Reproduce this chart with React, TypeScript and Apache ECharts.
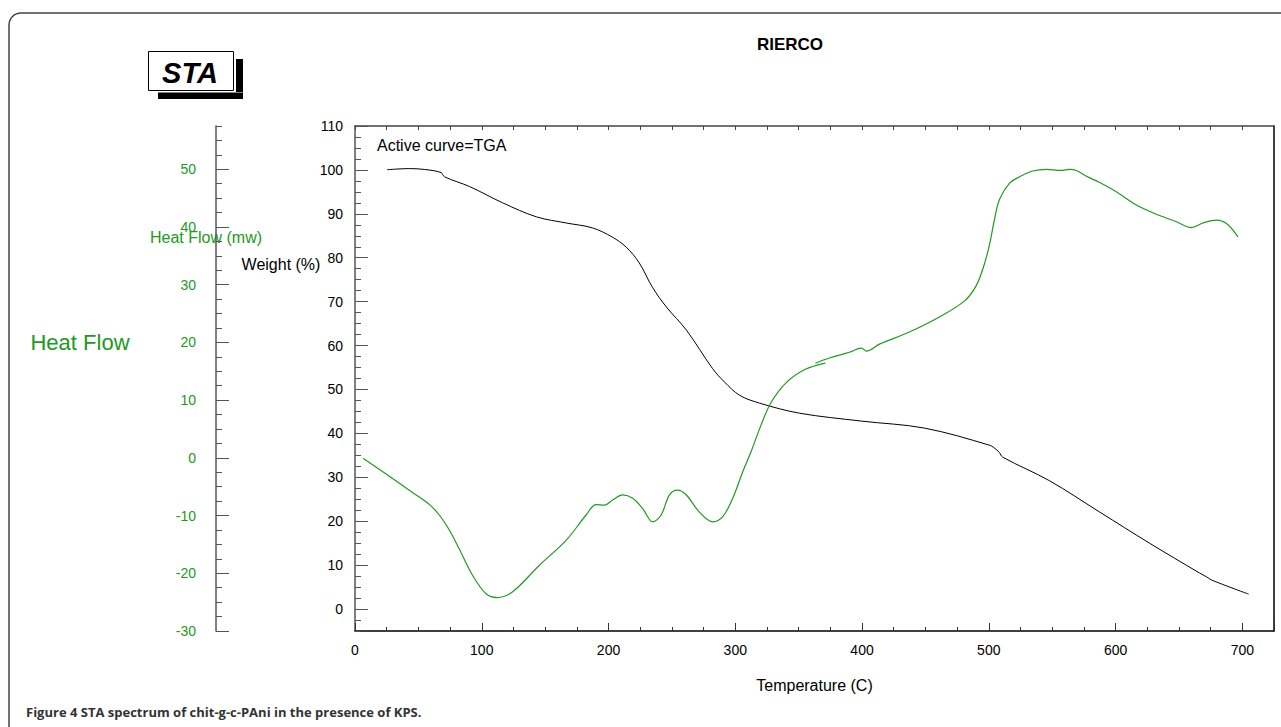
import React, { useEffect, useRef } from "react";
import * as echarts from "echarts";

// ---- data ----
const tgaTemp = [25.5, 42.9, 55, 67.9, 70.5, 90.5, 116.5, 143.3, 167, 187.3, 203, 214, 224.3, 234.6, 245.6, 261.5, 282, 291.5, 303.3, 319.1, 350.7, 399.6, 449.3, 500.6, 506, 508.5, 510.9, 548, 587.4, 626.8, 666.3, 672, 675.8, 705];
const tgaWeight = [100.05, 100.3, 100.1, 99.4, 98.45, 96.2, 92.5, 89.3, 87.9, 86.8, 84.7, 82.4, 78.8, 73.3, 68.8, 63.5, 54.8, 51.7, 48.7, 46.9, 44.6, 42.8, 41.2, 37.3, 36.3, 35.6, 34.6, 29.2, 22.1, 15.0, 8.2, 7.3, 6.6, 3.4];

const hf1Temp = [6.6, 27.1, 46.8, 58.8, 66.5, 74.4, 82.3, 92.6, 103.6, 112.3, 124.4, 145.5, 166.5, 182.3, 190.2, 196.8, 203.3, 211.2, 219.1, 227, 234.9, 241.5, 248.1, 254.6, 261.2, 271.7, 282.2, 290.1, 298, 305.9, 312.5, 320, 328, 340, 355, 371];
const hf1Value = [-0.1, -3.2, -6.2, -8.1, -9.9, -12.5, -15.8, -20.3, -23.6, -24.2, -23.2, -18.6, -14.3, -9.9, -8.1, -8.2, -7.3, -6.4, -7.0, -8.8, -11.1, -9.9, -6.4, -5.6, -6.4, -9.4, -11.1, -10.2, -7.0, -2.4, 1.1, 5.5, 9.5, 13.0, 15.3, 16.4];

const hf2Temp = [363.2, 374.3, 390, 399.5, 403.4, 413.7, 437.4, 461, 480.9, 490, 496, 500.6, 504.5, 508.5, 516.4, 524.3, 534.7, 545.4, 557.2, 563.8, 569.1, 577, 587.5, 600.6, 616.4, 632.2, 648, 659.8, 669, 679.6, 687.5, 696.6];
const hf2Value = [16.4, 17.3, 18.3, 19.0, 18.5, 19.7, 21.8, 24.4, 27.2, 29.8, 33.2, 37.0, 41.3, 44.8, 47.6, 48.7, 49.7, 50.0, 49.8, 50.0, 49.8, 48.8, 47.7, 46.1, 43.8, 42.2, 40.9, 39.9, 40.7, 41.2, 40.6, 38.3];

const weightTicks = [0, 10, 20, 30, 40, 50, 60, 70, 80, 90, 100, 110];
const heatTicks = [-30, -20, -10, 0, 10, 20, 30, 40, 50];

const GREEN = "#229922";
const FONT = "Liberation Sans, Arial, sans-serif";

const zip = (a: number[], b: number[]) => a.map((v, i) => [v, b[i]]);

export default function App() {
  const ref = useRef<HTMLDivElement>(null);
  useEffect(() => {
    if (!ref.current) return;
    const chart = echarts.init(ref.current, undefined, { renderer: "svg" });
    const minorAxis = (min: number, max: number, offset: number) => ({
      type: "value",
      position: "left",
      offset,
      min,
      max,
      interval: 2.5,
      axisLine: { show: true, onZero: false, lineStyle: { color: "#555", width: 1.5 } },
      axisTick: { show: true, inside: true, length: 6, lineStyle: { color: "#555" } },
      axisLabel: { show: false },
      splitLine: { show: false },
    });
    const majorAxis = (min: number, max: number, offset: number, ticks: number[], color: string, margin: number) => ({
      type: "value",
      position: "left",
      offset,
      min,
      max,
      interval: 5,
      axisLine: { show: false, onZero: false },
      axisTick: { show: true, inside: true, length: 13, customValues: ticks, lineStyle: { color: "#555" } },
      axisLabel: { show: true, customValues: ticks, color, fontSize: 14, fontFamily: FONT, margin },
      splitLine: { show: false },
    });
    const lineSeries = (xs: number[], ys: number[], yAxisIndex: number, color: string, width: number) => ({
      type: "line",
      xAxisIndex: 0,
      yAxisIndex,
      data: zip(xs, ys),
      symbol: "none",
      smooth: 0.35,
      lineStyle: { color, width },
    });
    chart.setOption({
      animation: false,
      textStyle: { fontFamily: FONT },
      grid: { left: 355, right: 7, top: 126, bottom: 96, containLabel: false },
      xAxis: [
        {
          type: "value",
          position: "bottom",
          min: 0,
          max: 725,
          interval: 100,
          axisLine: { show: true, onZero: false, lineStyle: { color: "#000", width: 1.5 } },
          axisTick: { show: true, inside: true, length: 8, lineStyle: { color: "#333" } },
          minorTick: { show: true, splitNumber: 4, length: 4, lineStyle: { color: "#333" } },
          axisLabel: { color: "#000", fontSize: 14, margin: 12, showMaxLabel: false, fontFamily: FONT },
          splitLine: { show: false },
          minorSplitLine: { show: false },
          name: "Temperature (C)",
          nameLocation: "middle",
          nameGap: 46,
          nameTextStyle: { fontSize: 16, color: "#000", fontFamily: FONT },
        },
        {
          type: "value",
          position: "top",
          min: 0,
          max: 725,
          interval: 25,
          axisLine: { show: true, onZero: false, lineStyle: { color: "#444", width: 1.5 } },
          axisTick: { show: true, inside: true, length: 4, lineStyle: { color: "#444" } },
          axisLabel: { show: false },
          splitLine: { show: false },
        },
      ],
      yAxis: [
        minorAxis(-5, 110, 0),
        majorAxis(-5, 110, 0, weightTicks, "#000", 12),
        minorAxis(-30, 57.5, 139),
        majorAxis(-30, 57.5, 139, heatTicks, GREEN, 20),
        {
          type: "value",
          position: "right",
          min: -5,
          max: 110,
          axisLine: { show: true, onZero: false, lineStyle: { color: "#000", width: 1.5 } },
          axisTick: { show: false },
          axisLabel: { show: false },
          splitLine: { show: false },
        },
      ],
      series: [
        lineSeries(tgaTemp, tgaWeight, 0, "#000", 1),
        lineSeries(hf1Temp, hf1Value, 2, GREEN, 1.2),
        lineSeries(hf2Temp, hf2Value, 2, GREEN, 1.2),
      ],
      graphic: [
        {
          type: "rect",
          shape: { x: 9, y: 13, width: 1330, height: 800, r: 12 },
          style: { fill: "none", stroke: "#444", lineWidth: 1.5 },
          silent: true,
        },
        { type: "rect", shape: { x: 236, y: 59, width: 7, height: 33 }, style: { fill: "#000" } },
        { type: "rect", shape: { x: 158, y: 92.5, width: 85, height: 6.5 }, style: { fill: "#000" } },
        {
          type: "rect",
          shape: { x: 148.5, y: 51.5, width: 85, height: 39 },
          style: { fill: "#fff", stroke: "#000", lineWidth: 1 },
        },
        {
          type: "text",
          x: 190,
          y: 73,
          style: { text: "STA", font: "italic bold 29px " + FONT, fill: "#000", align: "center", verticalAlign: "middle" },
        },
        {
          type: "text",
          x: 790,
          y: 44,
          style: { text: "RIERCO", font: "bold 17px " + FONT, fill: "#000", align: "center", verticalAlign: "middle" },
        },
        {
          type: "text",
          x: 80,
          y: 342,
          style: { text: "Heat Flow", font: "22px " + FONT, fill: GREEN, align: "center", verticalAlign: "middle" },
        },
        {
          type: "text",
          x: 206,
          y: 237,
          style: { text: "Heat Flow (mw)", font: "16px " + FONT, fill: GREEN, align: "center", verticalAlign: "middle" },
        },
        {
          type: "text",
          x: 281,
          y: 264,
          style: { text: "Weight (%)", font: "16px " + FONT, fill: "#000", align: "center", verticalAlign: "middle" },
        },
        {
          type: "text",
          x: 377,
          y: 145,
          style: { text: "Active curve=TGA", font: "16px " + FONT, fill: "#000", align: "left", verticalAlign: "middle" },
        },
        {
          type: "text",
          x: 26,
          y: 712,
          style: {
            text: "Figure 4 STA spectrum of chit-g-c-PAni in the presence of KPS.",
            font: "bold 13px 'Open Sans', sans-serif",
            fill: "#333",
            align: "left",
            verticalAlign: "middle",
          },
        },
      ],
    });
    return () => chart.dispose();
  }, []);
  return <div ref={ref} style={{ position: "absolute", left: 0, top: 0, width: 1281, height: 727 }} />;
}
